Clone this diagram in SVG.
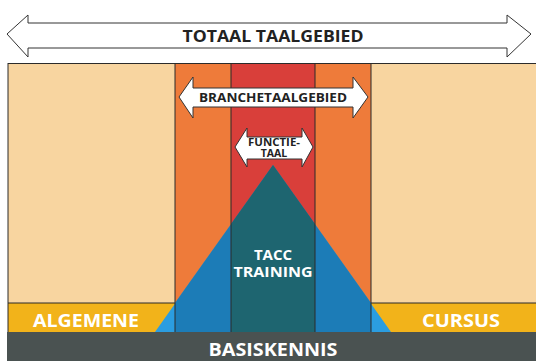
<svg xmlns="http://www.w3.org/2000/svg" width="536" height="361" viewBox="0 0 536 361">
<style>
text{font-family:"Open Sans","Liberation Sans",sans-serif;font-weight:bold;text-anchor:middle}
.w{fill:#fff}
.k{fill:#222}
.arrow{fill:#fff;stroke:#333;stroke-width:1}
.div{stroke:#2b2b2b;stroke-width:1;fill:none}
</style>
<rect width="536" height="361" fill="#fff"/>
<g id="columns">
<rect x="8" y="63" width="167" height="240" fill="#F8D5A0"/>
<rect x="371" y="63" width="165" height="240" fill="#F8D5A0"/>
<rect x="175" y="63" width="56" height="269" fill="#EE7B3A"/>
<rect x="315" y="63" width="56" height="269" fill="#EE7B3A"/>
<rect x="231" y="63" width="84" height="269" fill="#D93F3A"/>
</g>
<g id="algemene">
<rect x="8" y="303" width="167" height="29" fill="#F2B31A"/>
<text class="w" x="86" y="327" font-size="17" textLength="106" lengthAdjust="spacingAndGlyphs">ALGEMENE</text>
</g>
<g id="cursus">
<rect x="371" y="303" width="165" height="29" fill="#F2B31A"/>
<text class="w" x="461" y="327" font-size="17" textLength="78" lengthAdjust="spacingAndGlyphs">CURSUS</text>
</g>
<g id="pyramid">
<polygon points="273,165 155,332 175,332 175,303" fill="#2B9DE0"/>
<polygon points="273,165 391,332 371,332 371,303" fill="#2B9DE0"/>
<polygon points="273,165 175,303 175,332 371,332 371,303" fill="#1C7CB7"/>
<polygon points="273,165 231,224 231,332 315,332 315,224" fill="#1E6570"/>
</g>
<g id="lines">
<path class="div" d="M8,63.5H536 M175,63V332 M231,63V332 M315,63V332 M371,63V332 M8,303H175 M371,303H536 M8,63V332"/>
</g>
<g id="basiskennis">
<rect x="7" y="332" width="529" height="29" fill="#4A5251"/>
<text class="w" x="273" y="356" font-size="17" textLength="129" lengthAdjust="spacingAndGlyphs">BASISKENNIS</text>
</g>
<g id="totaal">
<polygon class="arrow" points="7,34 28,15 28,23 507,23 507,15 531,34 507,57 507,48 28,48 28,57"/>
<text class="k" x="273" y="42" font-size="16" textLength="181" lengthAdjust="spacingAndGlyphs">TOTAAL TAALGEBIED</text>
</g>
<g id="branche">
<polygon class="arrow" points="179,97 193,77 193,88 353,88 353,77 368,97 353,118 353,107 193,107 193,118"/>
<text class="k" x="273" y="102" font-size="11.5" textLength="148" lengthAdjust="spacingAndGlyphs">BRANCHETAALGEBIED</text>
</g>
<g id="functie">
<polygon class="arrow" points="235,147 247,128 247,137 302,137 302,128 313,147 302,167 302,159 247,159 247,167"/>
<text class="k" font-size="10.5"><tspan x="274" y="146" textLength="52" lengthAdjust="spacingAndGlyphs">FUNCTIE-</tspan><tspan x="274" y="157">TAAL</tspan></text>
</g>
<g id="tacc">
<text class="w" font-size="15"><tspan x="273" y="260">TACC</tspan><tspan x="273" y="277" textLength="79" lengthAdjust="spacingAndGlyphs">TRAINING</tspan></text>
</g>
</svg>
